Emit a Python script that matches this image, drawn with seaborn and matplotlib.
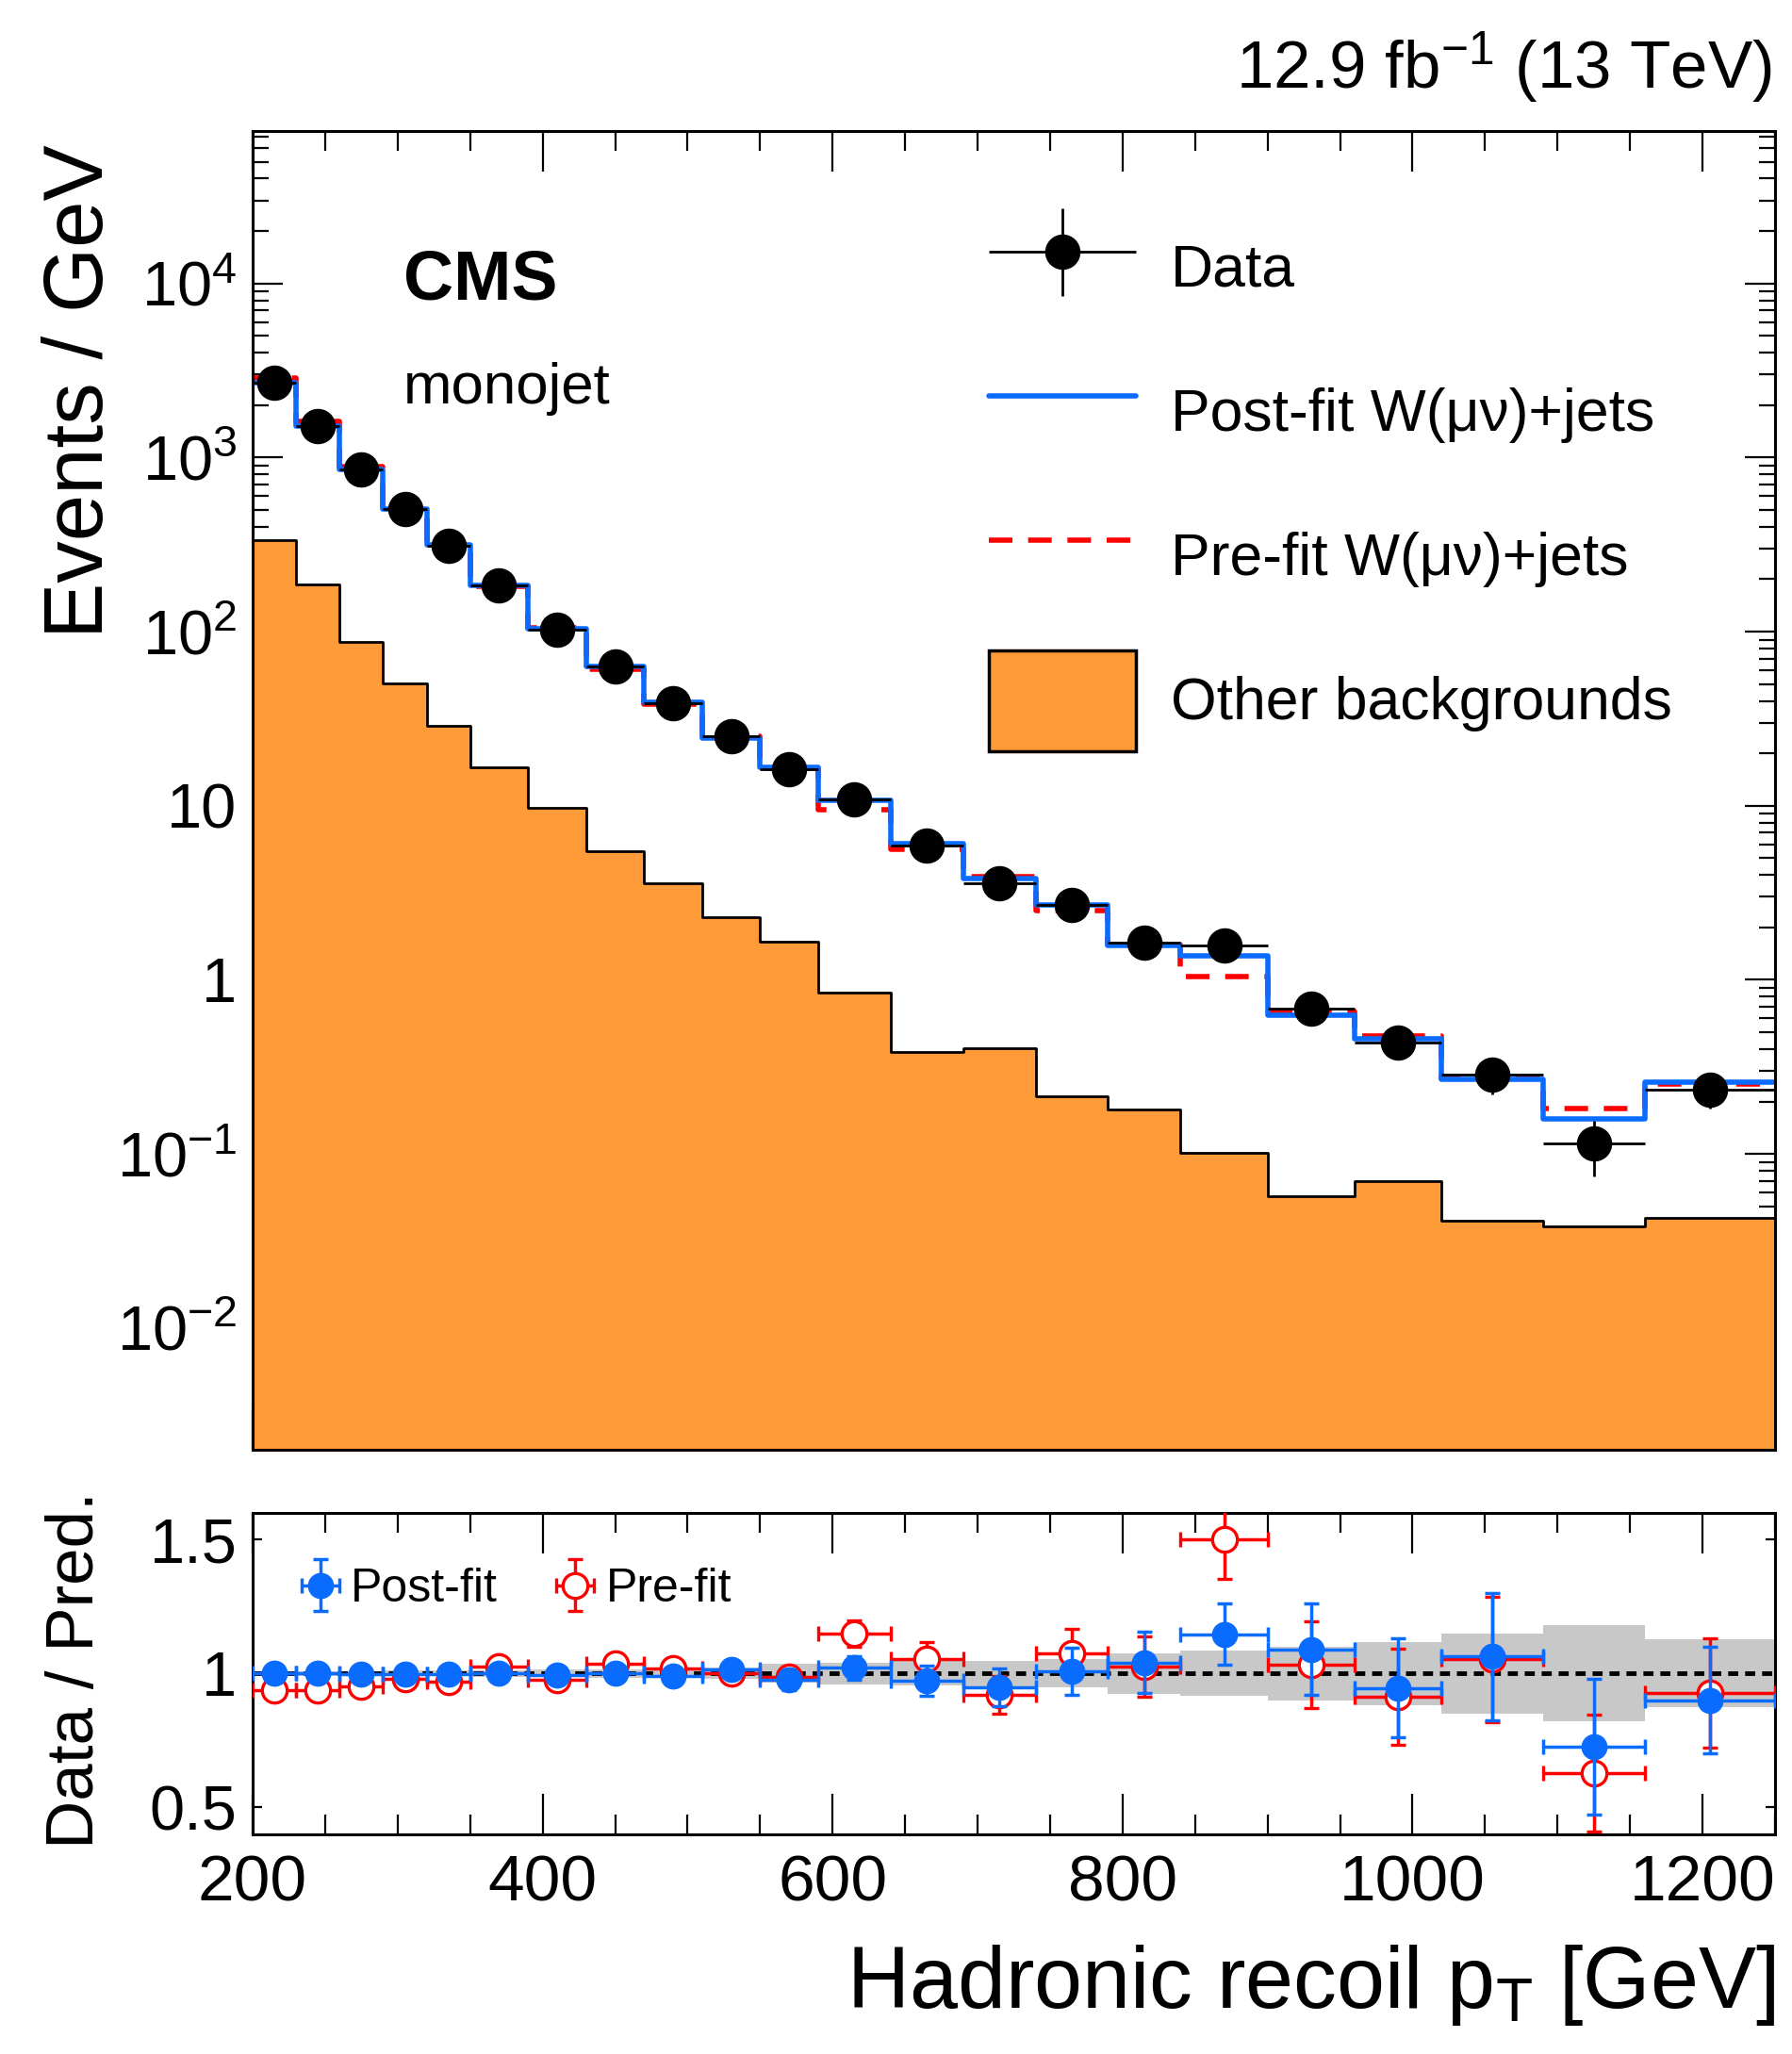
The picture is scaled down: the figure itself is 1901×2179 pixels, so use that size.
import numpy as np
import pandas as pd
import matplotlib
matplotlib.use('Agg')
import matplotlib.pyplot as plt
import seaborn as sns
from matplotlib.lines import Line2D
from matplotlib.patches import Patch
from matplotlib.container import ErrorbarContainer
from matplotlib.legend_handler import HandlerErrorbar
from matplotlib.ticker import (FixedLocator, FixedFormatter, MultipleLocator,
                               LogLocator, NullFormatter, NullLocator)

# --------------------------------------------
# Values read off the CMS monojet W(mu nu) control region plot
# --------------------------------------------
bin_edges = [200, 230, 260, 290, 320, 350, 390, 430, 470, 510, 550, 590,
             640, 690, 740, 790, 840, 900, 960, 1020, 1090, 1160, 1250]

# events / GeV
data_vals = [2700, 1520, 850, 503, 313, 185, 103, 63, 39, 25, 16.3, 10.9,
             5.9, 3.6, 2.7, 1.63, 1.58, 0.68, 0.435, 0.285, 0.115, 0.234]
data_rel_err = [0.004, 0.005, 0.006, 0.008, 0.010, 0.012, 0.016, 0.020,
                0.025, 0.032, 0.039, 0.043, 0.058, 0.075, 0.086, 0.11,
                0.10, 0.156, 0.196, 0.224, 0.35, 0.22]
postfit_vals = [2700, 1520, 852, 504, 314, 185, 104, 63, 39.3, 24.6, 16.7,
                10.7, 6.06, 3.80, 2.68, 1.57, 1.38, 0.624, 0.46, 0.268,
                0.158, 0.26]
prefit_vals = [2875, 1619, 892, 514, 323, 181, 105.5, 60.9, 38.3, 25, 16.5,
               9.49, 5.59, 3.91, 2.51, 1.59, 1.05, 0.659, 0.477, 0.271,
               0.183, 0.252]
other_bkg = [336, 186, 87, 50.6, 28.6, 16.7, 9.7, 5.45, 3.6, 2.3, 1.65,
             0.843, 0.387, 0.407, 0.215, 0.179, 0.102, 0.057, 0.0695,
             0.0416, 0.0383, 0.0427]

# data / prediction
ratio_post = [1.0, 1.0, 0.998, 0.998, 0.998, 1.002, 0.994, 1.0, 0.992,
              1.015, 0.976, 1.021, 0.974, 0.947, 1.008, 1.04, 1.146, 1.09,
              0.945, 1.063, 0.727, 0.90]
ratio_pre = [0.939, 0.939, 0.953, 0.979, 0.968, 1.024, 0.976, 1.035, 1.018,
             1.0, 0.986, 1.149, 1.055, 0.92, 1.075, 1.026, 1.502, 1.032,
             0.912, 1.052, 0.627, 0.928]
band_err = [0.008, 0.008, 0.009, 0.010, 0.011, 0.012, 0.014, 0.016, 0.018,
            0.022, 0.035, 0.040, 0.045, 0.047, 0.052, 0.075, 0.085, 0.10,
            0.118, 0.15, 0.179, 0.126]

y_tick_vals = [1e-2, 1e-1, 1, 10, 1e2, 1e3, 1e4]
y_tick_text = ['$10^{-2}$', '$10^{-1}$', '1', '10', '$10^{2}$', '$10^{3}$',
               '$10^{4}$']

# --------------------------------------------
# Style
# --------------------------------------------
sns.set_theme(style='ticks')
plt.rcParams['font.family'] = ['Liberation Sans', 'DejaVu Sans']
plt.rcParams['mathtext.fontset'] = 'custom'
plt.rcParams['mathtext.rm'] = 'Liberation Sans'
plt.rcParams['mathtext.it'] = 'Liberation Sans:italic'
plt.rcParams['mathtext.bf'] = 'Liberation Sans:bold'
plt.rcParams['mathtext.default'] = 'regular'
plt.rcParams['axes.edgecolor'] = 'black'
plt.rcParams['axes.linewidth'] = 2.2
plt.rcParams['text.color'] = 'black'
plt.rcParams['xtick.color'] = 'black'
plt.rcParams['ytick.color'] = 'black'

BLUE = '#0A6CFF'
RED = '#FF0000'
ORANGE = '#FE9A37'
GREY = '#C8C8C8'
DASH = (0, (4.5, 3))

edges = np.array(bin_edges, dtype=float)
centers = 0.5 * (edges[1:] + edges[:-1])
half = 0.5 * np.diff(edges)
rel = np.array(data_rel_err)

hist_df = pd.DataFrame({'pt': centers, 'other': other_bkg,
                        'prefit': prefit_vals, 'postfit': postfit_vals})

W, H = 1901, 2179
fig = plt.figure(figsize=(W / 100, H / 100), dpi=100)
ax = fig.add_axes([268 / W, 1 - 1538 / H, 1615 / W, 1399 / H])
rax = fig.add_axes([268 / W, 1 - 1945.5 / H, 1615 / W, 340.5 / H])

# --------------------------------------------
# Main panel
# --------------------------------------------
sns.histplot(data=hist_df, x='pt', weights='other', bins=bin_edges,
             element='step', fill=True, color=ORANGE, alpha=1,
             edgecolor='black', linewidth=2, ax=ax)
sns.histplot(data=hist_df, x='pt', weights='prefit', bins=bin_edges,
             element='step', fill=False, color=RED, linewidth=4,
             linestyle=DASH, ax=ax)
sns.histplot(data=hist_df, x='pt', weights='postfit', bins=bin_edges,
             element='step', fill=False, color=BLUE, linewidth=4, ax=ax)
data_h = ax.errorbar(centers, data_vals, xerr=half,
                     yerr=np.array(data_vals) * rel, fmt='o', color='black',
                     ms=26, elinewidth=2, capsize=0, zorder=5)

ax.set_yscale('log')
ax.set_xlim(200, 1250)
ax.set_ylim(2e-3, 7.5e4)
ax.set_xlabel('')
ax.set_ylabel('')
ax.xaxis.set_major_locator(MultipleLocator(200))
ax.xaxis.set_minor_locator(MultipleLocator(50))
ax.yaxis.set_major_locator(FixedLocator(y_tick_vals))
ax.yaxis.set_major_formatter(FixedFormatter(y_tick_text))
ax.yaxis.set_minor_locator(LogLocator(base=10, subs=np.arange(2, 10), numticks=30))
ax.yaxis.set_minor_formatter(NullFormatter())
ax.tick_params(which='both', direction='in', top=True, right=True,
               labelbottom=False, width=1.6)
ax.tick_params(axis='x', which='major', length=31)
ax.tick_params(axis='x', which='minor', length=15)
ax.tick_params(axis='y', which='major', length=23, labelsize=48, pad=12)
ax.tick_params(axis='y', which='minor', length=12)

h_post = Line2D([], [], color=BLUE, lw=4)
h_pre = Line2D([], [], color=RED, lw=4, ls=DASH)
h_other = Patch(facecolor=ORANGE, edgecolor='black', lw=2.5)
ax.legend([data_h, h_post, h_pre, h_other],
          ['Data', 'Post-fit W(μν)+jets', 'Pre-fit W(μν)+jets',
           'Other backgrounds'],
          loc='upper left', bbox_to_anchor=(1049 / W, 1 - 231 / H),
          bbox_transform=fig.transFigure, frameon=False, fontsize=45,
          handlelength=2.5, handleheight=2.25, handletextpad=0.58,
          labelspacing=0.74, borderpad=0, borderaxespad=0,
          handler_map={ErrorbarContainer: HandlerErrorbar(xerr_size=1.25,
                                                          yerr_size=0.75)})

fig.text(428 / W, 1 - 317 / H, 'CMS', fontsize=53, fontweight='bold',
         ha='left', va='baseline')
fig.text(428 / W, 1 - 428 / H, 'monojet', fontsize=44.5, ha='left',
         va='baseline')
fig.text(1880 / W, 1 - 94 / H, r'12.9 fb$^{-1}$ (13 TeV)', fontsize=51,
         ha='right', va='baseline')

# --------------------------------------------
# Ratio panel
# --------------------------------------------
band = np.array(band_err)
rax.stairs(1 + band, edges, baseline=1 - band, fill=True, color=GREY, lw=0)
rax.axhline(1, color='black', ls=(0, (2.2, 1.5)), lw=3.5, zorder=2)
pre_h = rax.errorbar(centers, ratio_pre, xerr=half,
                     yerr=np.array(ratio_pre) * rel, fmt='o', ms=19,
                     mfc='white', mec=RED, mew=2.4, color=RED,
                     elinewidth=2.5, capsize=6, capthick=2.5, zorder=3)
post_h = rax.errorbar(centers, ratio_post, xerr=half,
                      yerr=np.array(ratio_post) * rel, fmt='o', ms=19,
                      color=BLUE, elinewidth=2.5, capsize=6, capthick=2.5,
                      zorder=4)

rax.set_xlim(200, 1250)
rax.set_ylim(0.4, 1.6)
rax.xaxis.set_major_locator(MultipleLocator(200))
rax.xaxis.set_minor_locator(MultipleLocator(50))
rax.yaxis.set_major_locator(FixedLocator([0.5, 1, 1.5]))
rax.yaxis.set_major_formatter(FixedFormatter(['0.5', '1', '1.5']))
rax.yaxis.set_minor_locator(NullLocator())
rax.tick_params(which='both', direction='in', top=True, right=True, width=1.6)
rax.tick_params(axis='x', which='major', length=31, labelsize=50, pad=15)
rax.tick_params(axis='x', which='minor', length=15)
rax.tick_params(axis='y', which='major', length=7, labelsize=48, pad=12)

rax.legend([post_h, pre_h], ['Post-fit', 'Pre-fit'], ncol=2,
           loc='center left', bbox_to_anchor=(320 / W, 1 - 1686 / H),
           bbox_transform=fig.transFigure, frameon=False, fontsize=36,
           handlelength=0.78, handletextpad=0.26, columnspacing=1.26,
           borderpad=0, borderaxespad=0,
           handler_map={ErrorbarContainer: HandlerErrorbar(xerr_size=0.4,
                                                           yerr_size=0.55)})

# axis titles
fig.text(86 / W, 1 - 153 / H, 'Events / GeV', fontsize=64, rotation=90,
         ha='center', va='top')
fig.text(81 / W, 1 - 1772 / H, 'Data / Pred.', fontsize=51, rotation=90,
         ha='center', va='center')
fig.text(1883 / W, 1 - 2130 / H, r'Hadronic recoil p$_{T}$ [GeV]',
         fontsize=66, ha='right', va='baseline')

fig.savefig('out.png', dpi=100)
